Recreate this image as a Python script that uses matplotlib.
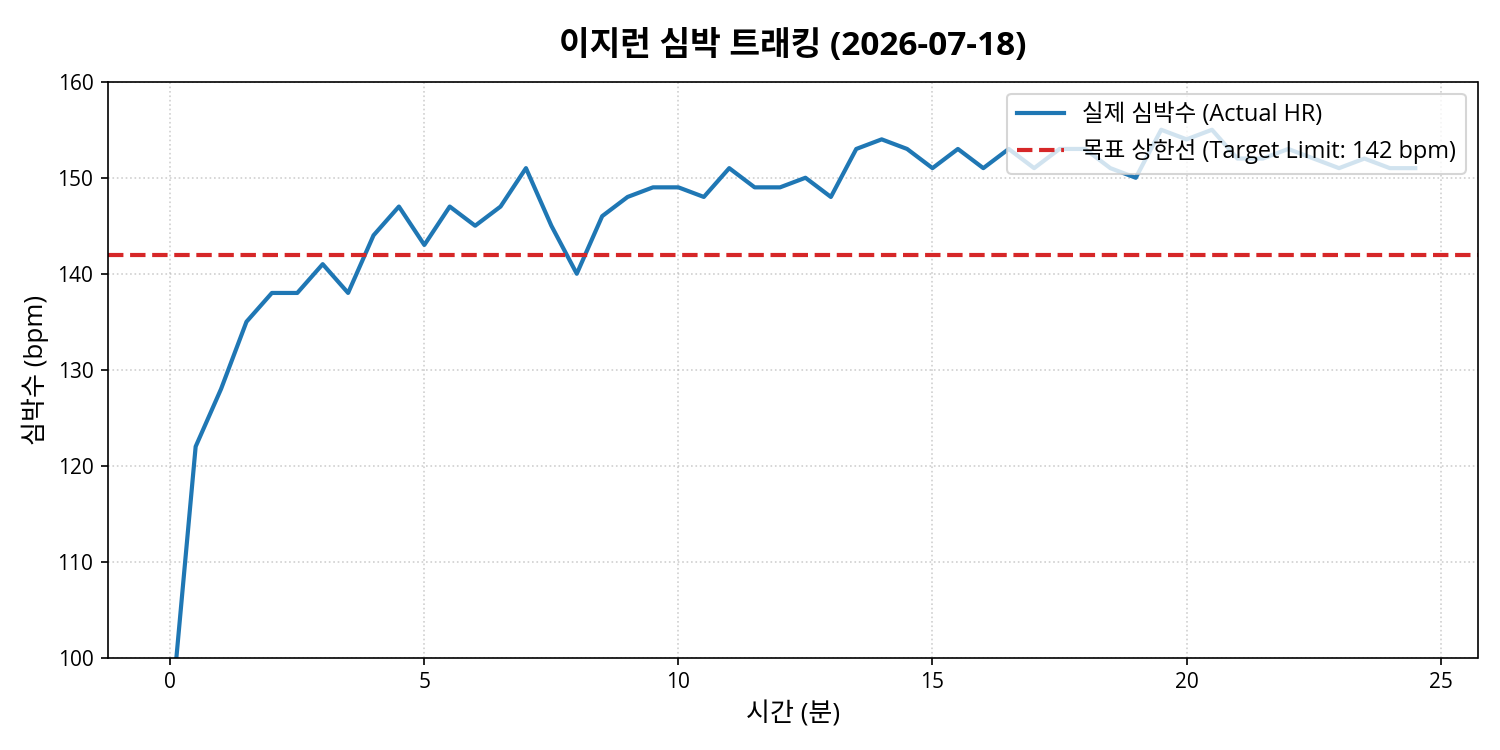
import numpy as np
import matplotlib
matplotlib.use("Agg")
import matplotlib.pyplot as plt

# Latin from Open Sans, Hangul falls back to Noto Sans CJK KR
plt.rcParams['font.family'] = ['Open Sans', 'Noto Sans CJK KR', 'DejaVu Sans']

# ==================================================
# DADOS
# ==================================================
minutos = [0.0, 0.5, 1.0, 1.5, 2.0, 2.5, 3.0, 3.5, 4.0, 4.5,
           5.0, 5.5, 6.0, 6.5, 7.0, 7.5, 8.0, 8.5, 9.0, 9.5,
           10.0, 10.5, 11.0, 11.5, 12.0, 12.5, 13.0, 13.5, 14.0, 14.5,
           15.0, 15.5, 16.0, 16.5, 17.0, 17.5, 18.0, 18.5, 19.0, 19.5,
           20.0, 20.5, 21.0, 21.5, 22.0, 22.5, 23.0, 23.5, 24.0, 24.5]
bpm = [93, 122, 128, 135, 138, 138, 141, 138, 144, 147,
       143, 147, 145, 147, 151, 145, 140, 146, 148, 149,
       149, 148, 151, 149, 149, 150, 148, 153, 154, 153,
       151, 153, 151, 153, 151, 153, 153, 151, 150, 155,
       154, 155, 152, 152, 153, 152, 151, 152, 151, 151]
limite = 142

# ==================================================
# PLOT
# ==================================================
fig, ax = plt.subplots(figsize=(10, 5), dpi=150)
fig.subplots_adjust(left=0.072, right=0.985, top=0.891, bottom=0.123)

ax.plot(minutos, bpm, color='#1f77b4', linewidth=2, label='실제 심박수 (Actual HR)')
ax.axhline(limite, color='#d62728', linestyle='--', linewidth=2,
           label=f'목표 상한선 (Target Limit: {limite} bpm)')

ax.set_ylim(100, 160)
ax.set_title('이지런 심박 트래킹 (2026-07-18)', fontsize=16, fontweight='bold', pad=13)
ax.set_xlabel('시간 (분)', fontsize=12.5)
ax.set_ylabel('심박수 (bpm)', fontsize=12.5)
ax.grid(True, linestyle=':', alpha=0.6)
ax.legend(loc='upper right', fontsize=11.3)

fig.savefig('out.png', dpi=150)
